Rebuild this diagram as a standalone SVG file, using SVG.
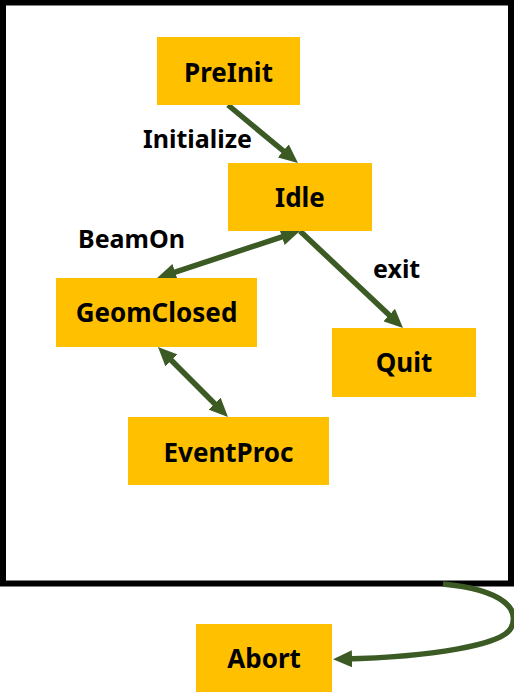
<svg xmlns="http://www.w3.org/2000/svg" width="514" height="694" viewBox="0 0 514 694">
<style>
.node rect{fill:#FFC000}
.node text{font-family:"Noto Sans","Liberation Sans",sans-serif;font-weight:bold;font-size:26px;fill:#000;text-anchor:middle}
.lbl{font-family:"Noto Sans","Liberation Sans",sans-serif;font-weight:bold;font-size:25px;fill:#000}
.conn{stroke:#3B5A24;stroke-width:5.5;fill:none}
</style>
<defs>
<marker id="ah" markerUnits="userSpaceOnUse" markerWidth="19" markerHeight="17" refX="8" refY="8.5" orient="auto-start-reverse" viewBox="0 0 19 17">
<path d="M0,0 L19,8.5 L0,17 z" fill="#3B5A24"/>
</marker>
</defs>
<rect x="0" y="0" width="514" height="694" fill="#fff"/>
<rect id="frame" x="3" y="2.5" width="508" height="581" fill="#fff" stroke="#000" stroke-width="6"/>
<g id="connectors">
<line class="conn" x1="228" y1="105" x2="289.5" y2="156" marker-end="url(#ah)"/>
<line class="conn" x1="289.5" y1="234.4" x2="167.5" y2="274.6" marker-start="url(#ah)" marker-end="url(#ah)"/>
<line class="conn" x1="300" y1="231" x2="395" y2="320.5" marker-end="url(#ah)"/>
<line class="conn" x1="165.8" y1="354.8" x2="220.2" y2="409.2" marker-start="url(#ah)" marker-end="url(#ah)"/>
<path class="conn" d="M443,584 C505,590 520,610 511,628 C503,645 430,657 344,659" marker-end="url(#ah)"/>
</g>
<g id="labels">
<text class="lbl" x="143" y="148">Initialize</text>
<text class="lbl" x="78" y="248">BeamOn</text>
<text class="lbl" x="373" y="278">exit</text>
</g>
<g id="PreInit" class="node"><rect x="157" y="37" width="143" height="68"/><text x="228.5" y="82">PreInit</text></g>
<g id="Idle" class="node"><rect x="228" y="163" width="144" height="68"/><text x="300" y="207">Idle</text></g>
<g id="GeomClosed" class="node"><rect x="56" y="278" width="201" height="69"/><text x="156.5" y="322">GeomClosed</text></g>
<g id="Quit" class="node"><rect x="332" y="328" width="144" height="69"/><text x="404" y="372">Quit</text></g>
<g id="EventProc" class="node"><rect x="128" y="417" width="201" height="68"/><text x="228.5" y="462">EventProc</text></g>
<g id="Abort" class="node"><rect x="196" y="624" width="136" height="68"/><text x="264" y="668">Abort</text></g>
</svg>
